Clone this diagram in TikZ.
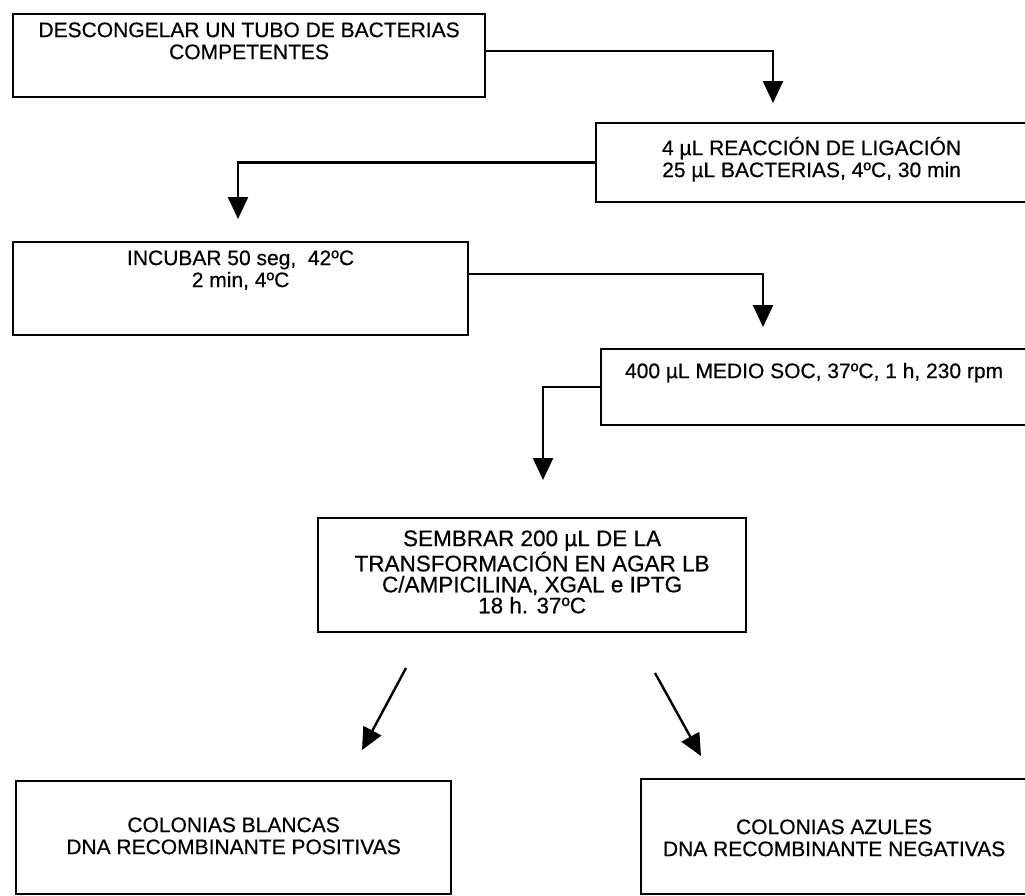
\documentclass[tikz,border=0pt]{standalone}
\usepackage{fontspec}
\setmainfont{Liberation Sans}[BoldFont={Liberation Sans},BoldFeatures={FakeBold=0.5}]
\usetikzlibrary{arrows.meta}
\newcommand\bxt[4]{\begin{minipage}[c][#2][t]{#1}\centering\vspace*{#3}\rule{0pt}{19pt}#4\end{minipage}}
\begin{document}
\begin{tikzpicture}[x=1pt,y=-1pt,
  box/.style={draw, line width=2.2pt, inner sep=0pt, anchor=north west, font=\fontsize{21}{22}\selectfont\bfseries},
  conn/.style={line width=2.4pt},
  arr/.style={conn, -{Triangle[length=22pt,width=20pt]}}]
\useasboundingbox (0,0) rectangle (1025,895);
\fill[white] (0,0) rectangle (1025,895);
\clip (0,0) rectangle (1025,895);
\node[box] (b1) at (12,13) {\bxt{472pt}{83pt}{4pt}{DESCONGELAR UN TUBO DE BACTERIAS\\COMPETENTES}};
\node[box] (b2) at (595,122) {\bxt{431pt}{79pt}{13pt}{4 µL REACCIÓN DE LIGACIÓN\\25 µL BACTERIAS, 4ºC, 30 min}};
\node[box] (b3) at (12,241) {\bxt{455pt}{93pt}{4pt}{INCUBAR 50 seg,\ \ 42ºC\\2 min, 4ºC}};
\node[box] (b4) at (600,348) {\bxt{426pt}{76pt}{10pt}{400 µL MEDIO SOC, 37ºC, 1 h, 230 rpm}};
\node[box, font=\fontsize{22.5}{21}\selectfont\bfseries] (b5) at (317,517) {\bxt{428pt}{114pt}{9pt}{SEMBRAR 200 µL DE LA\\TRANSFORMACIÓN EN AGAR LB\\C/AMPICILINA, XGAL e IPTG\\18 h. 37ºC}};
\node[box] (b6) at (15,780) {\bxt{435pt}{113pt}{32pt}{COLONIAS BLANCAS\\DNA RECOMBINANTE POSITIVAS}};
\node[box] (b7) at (640,778) {\bxt{386pt}{115pt}{36pt}{COLONIAS AZULES\\DNA RECOMBINANTE NEGATIVAS}};
\coordinate (t1) at (773,103);
\coordinate (t2) at (238,219);
\coordinate (t3) at (763,327);
\coordinate (t4) at (543,480);
\coordinate (d1) at (406,668);
\coordinate (e1) at (362,750);
\coordinate (d2) at (655,673);
\coordinate (e2) at (701,756);
\draw[arr] ([yshift=4.5pt]b1.east) -| (t1);
\draw[arr] (b2.west) -| (t2);
\draw[arr] ([yshift=14.5pt]b3.east) -| (t3);
\draw[arr] (b4.west) -| (t4);
\draw[arr] (d1) -- (e1);
\draw[arr] (d2) -- (e2);
\end{tikzpicture}
\end{document}
